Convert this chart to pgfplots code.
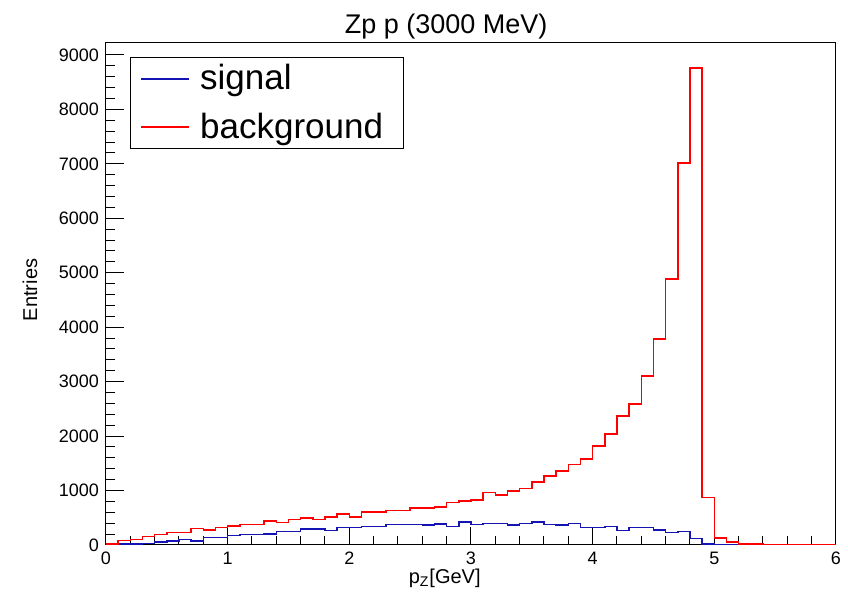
\documentclass[border=0pt]{standalone}
\usepackage{pgfplots}
\pgfplotsset{compat=1.18}
\usepackage{pgfplotstable}
\usepackage{fontspec}
\setmainfont{Liberation Sans}

\definecolor{sigblue}{RGB}{20,20,180}
\definecolor{bkgred}{RGB}{255,0,0}

% bin left edge, signal, background (bin width 0.1)
\pgfplotstableread{
x   sig   bkg
0.0 5     18
0.1 15    79
0.2 18    104
0.3 25    153
0.4 55    196
0.5 73    226
0.6 104   226
0.7 73    300
0.8 141   270
0.9 141   320
1.0 177   349
1.1 196   375
1.2 196   375
1.3 205   446
1.4 245   413
1.5 245   470
1.6 297   498
1.7 297   465
1.8 263   517
1.9 321   569
2.0 321   514
2.1 343   606
2.2 343   606
2.3 373   630
2.4 373   630
2.5 373   679
2.6 367   679
2.7 385   703
2.8 343   777
2.9 422   807
3.0 379   826
3.1 391   967
3.2 391   923
3.3 367   991
3.4 391   1040
3.5 422   1156
3.6 373   1266
3.7 370   1358
3.8 398   1477
3.9 318   1578
4.0 318   1822
4.1 337   2042
4.2 263   2373
4.3 318   2587
4.4 318   3101
4.5 275   3780
4.6 226   4887
4.7 245   7015
4.8 122   8758
4.9 20    875
5.0 5     130
5.1 0     58
5.2 0     20
5.3 0     15
5.4 0     0
5.5 0     0
5.6 0     0
5.7 0     0
5.8 0     0
5.9 0     0
6.0 0     0
}\histdata

\begin{document}
\begin{tikzpicture}
\useasboundingbox (-53pt,-23.5pt) rectangle (371pt,272.5pt);
\begin{axis}[
    at={(0,0)}, anchor=south west,
    scale only axis,
    width=365pt, height=251pt,
    clip mode=individual,
    xmin=0, xmax=6,
    ymin=0, ymax=9220,
    xtick={0,1,...,6},
    ytick={0,1000,...,9000},
    minor x tick num=4,
    minor y tick num=4,
    xtick pos=bottom, ytick pos=left,
    tick align=inside,
    major tick length=9pt,
    minor tick length=4.5pt,
    axis line style={line width=0.5pt},
    every tick/.style={black, line width=0.5pt},
    tick label style={font=\fontsize{9}{10}\selectfont},
    /pgf/number format/assume math mode=true,
    /pgf/number format/1000 sep={},
    scaled y ticks=false,
    xlabel={p\textsubscript{Z}[GeV]},
    xlabel style={at={(axis description cs:0.464,0)}, anchor=center,
        yshift=-16.5pt, font=\fontsize{10}{12}\selectfont},
    ylabel={Entries},
    ylabel style={at={(axis description cs:-0.104,0.508)}, anchor=center,
        font=\fontsize{10}{12}\selectfont},
    legend cell align=left,
    legend image code/.code={\draw[#1] (0pt,0pt) -- (24pt,0pt);},
    legend style={
        at={(0.033,0.972)}, anchor=north west,
        draw=black, line width=0.5pt,
        font=\fontsize{17.5}{20}\selectfont,
        inner xsep=5pt, inner ysep=1.5pt,
        row sep=6pt,
        nodes={inner xsep=5pt},
    },
]
\addplot[const plot, sigblue, line width=0.8pt] table[x=x, y=sig] {\histdata};
\addlegendentry{signal}
\addplot[const plot, bkgred, line width=0.8pt] table[x=x, y=bkg] {\histdata};
\addlegendentry{background}
\node[anchor=base, font=\fontsize{13.5}{16}\selectfont]
    at (rel axis cs:0.466,1) [yshift=4.5pt] {Zp p (3000 MeV)};
\end{axis}
\end{tikzpicture}
\end{document}
